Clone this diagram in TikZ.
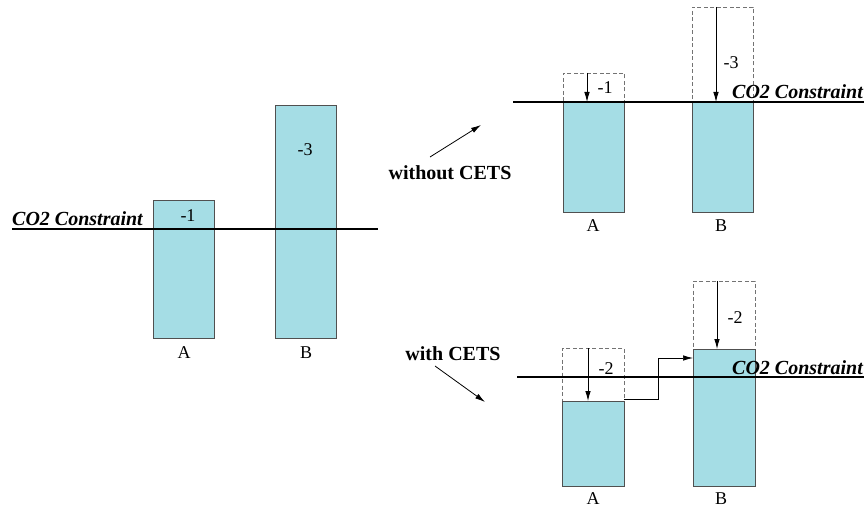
\documentclass[tikz,border=0pt]{standalone}
\usepackage{fontspec}
\setmainfont{Liberation Serif}
\usetikzlibrary{arrows.meta,calc}
\definecolor{barfill}{RGB}{165,221,229}
\definecolor{barline}{RGB}{80,80,80}
\tikzset{
  bar/.style={draw=barline, line width=1pt, fill=barfill, inner sep=0pt, outer sep=0pt, anchor=north west},
  ghost/.style={draw=barline!80, dashed, dash pattern=on 4pt off 2.5pt, line width=0.9pt, inner sep=0pt, outer sep=0pt, anchor=north west},
  cline/.style={line width=2pt, black},
  arr/.style={-{Latex[length=10pt,width=5.5pt]}, line width=0.8pt},
  txt/.style={font=\fontsize{18}{21}\selectfont, inner sep=0pt},
  lab/.style={font=\fontsize{20}{23}\selectfont\bfseries, inner sep=0pt},
  con/.style={font=\fontsize{20}{23}\selectfont\bfseries\itshape, inner sep=0pt, anchor=base west},
}
\begin{document}
\begin{tikzpicture}[x=1pt,y=-1pt]
\useasboundingbox (0,0) rectangle (864,508);
% ---------- left panel ----------
\node[bar, minimum width=61pt, minimum height=138pt] (LA) at (153,200) {};
\node[bar, minimum width=61pt, minimum height=232pt] (LB) at (275,106) {};
\coordinate (L1) at (12,229);
\coordinate (L2) at (378,229);
\draw[cline] (L1) -- (L2);
\node[con] (Lc) at (12,225.5) {CO2 Constraint};
\node[txt] (Ln1) at (188,216) {-1};
\node[txt] (Ln3) at (305,150) {-3};
\node[txt] (LAl) at (184,353) {A};
\node[txt] (LBl) at (306,353) {B};
% ---------- labels and diagonal arrows ----------
\node[lab] (wo) at (450,173) {without CETS};
\coordinate (wo1) at (430,157);
\coordinate (wo2) at (481,125);
\draw[arr] (wo1) -- (wo2);
\node[lab] (wi) at (453,354) {with CETS};
\coordinate (wi1) at (435,366);
\coordinate (wi2) at (485,402);
\draw[arr] (wi1) -- (wi2);
% ---------- top-right panel ----------
\node[ghost, minimum width=61pt, minimum height=29pt] (TAd) at (563,73) {};
\node[ghost, minimum width=61pt, minimum height=95pt] (TBd) at (692,7) {};
\node[bar, minimum width=61pt, minimum height=110pt] (TA) at (563,102) {};
\node[bar, minimum width=61pt, minimum height=110pt] (TB) at (692,102) {};
\coordinate (T1) at (513,102);
\coordinate (T2) at (864,102);
\draw[cline] (T1) -- (T2);
\coordinate (ta) at (587,73);
\draw[arr] (ta) -- (ta |- TA.north);
\coordinate (tb) at (716,7);
\draw[arr] (tb) -- (tb |- TB.north);
\node[txt] (Tn1) at (605,88) {-1};
\node[txt] (Tn3) at (731,63) {-3};
\node[con] (Tc) at (732,99) {CO2 Constraint};
\node[txt] (TAl) at (593,226) {A};
\node[txt] (TBl) at (721,226) {B};
% ---------- bottom-right panel ----------
\node[ghost, minimum width=62pt, minimum height=53pt] (BAd) at (562,348) {};
\node[ghost, minimum width=62pt, minimum height=68pt] (BBd) at (693,281) {};
\node[bar, minimum width=62pt, minimum height=85pt] (BA) at (562,401) {};
\node[bar, minimum width=62pt, minimum height=137pt] (BB) at (693,349) {};
\coordinate (B1) at (517,377);
\coordinate (B2) at (864,377);
\draw[cline] (B1) -- (B2);
\coordinate (ba) at (588,348);
\draw[arr] (ba) -- (ba |- BA.north);
\coordinate (bb) at (717,281);
\draw[arr] (bb) -- (bb |- BB.north);
\node[txt] (Bn2a) at (606,369) {-2};
\node[txt] (Bn2b) at (735,318) {-2};
\node[con] (Bc) at (732,374) {CO2 Constraint};
\coordinate (tr1) at (624,399);
\coordinate (tr2) at (658,399);
\coordinate (tr3) at (658,358);
\draw[arr, line width=0.7pt] (tr1) -- (tr2) -- (tr3) -- (tr3 -| BB.west);
\node[txt] (BAl) at (593,499) {A};
\node[txt] (BBl) at (721,499) {B};
\end{tikzpicture}
\end{document}
